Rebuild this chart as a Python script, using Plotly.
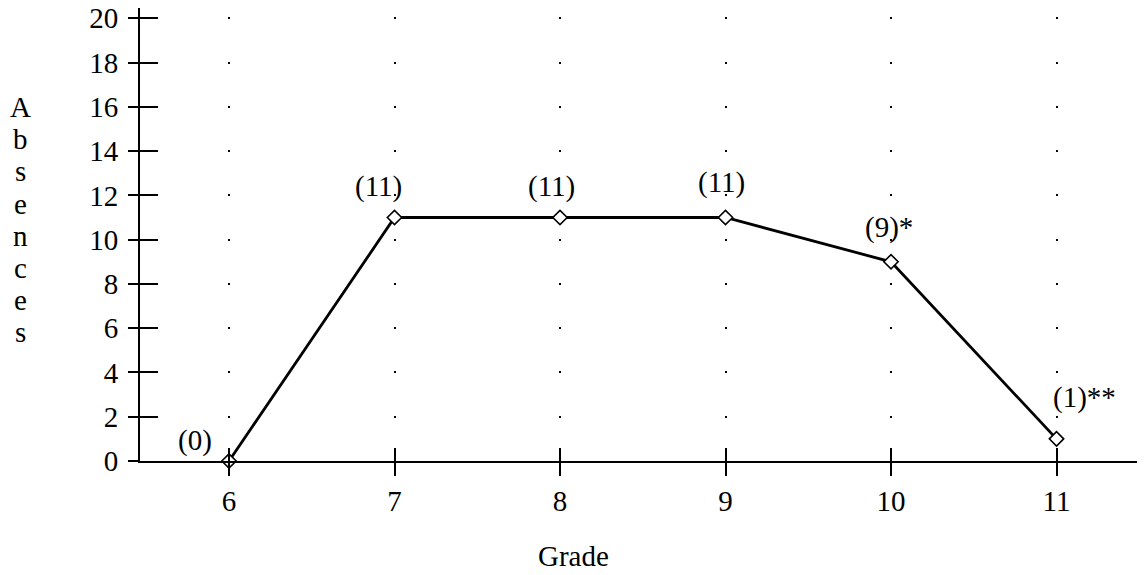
import plotly.graph_objects as go

# data
grades = [6, 7, 8, 9, 10, 11]
absences = [0, 11, 11, 11, 9, 1]
point_labels = ["(0)", "(11)", "(11)", "(11)", "(9)*", "(1)**"]
y_ticks = list(range(0, 21, 2))
y_title = "Absences"
x_title = "Grade"

# label offsets in px (dx, dy)
label_shift = [(-34, 21), (-16, 31), (-9, 31), (-4, 35), (-2, 34), (28, 41)]

# the page body adds 8px around the figure, so the figure is 8px smaller
W, H = 1137, 567
ml, mr, mt, mb = 132, 0, 0, 114
plot_w = W - ml - mr
plot_h = H - mt - mb
px_per_unit = (plot_h - 10.3) / 20
y_max = plot_h / px_per_unit
x_range = [6 - 89 / 165.5, 6 + (plot_w - 89) / 165.5]


def paper(fx, fy):
    return (fx - ml) / plot_w, (mt + plot_h - fy) / plot_h


# dotted vertical grid: one dot at every even y value, path starts at top
period = 2 * px_per_unit
dot = 2
gap_a = (y_max - 20) * px_per_unit - dot / 2
gap_b = period - gap_a - dot
grid_dash = f"0px,{gap_a:.3f}px,{dot}px,{gap_b:.3f}px"

font = dict(family="Liberation Serif", size=29, color="black")

fig = go.Figure()
fig.add_trace(go.Scatter(
    x=grades, y=absences, mode="lines+markers",
    line=dict(color="black", width=2.8),
    marker=dict(symbol="diamond", size=11, color="white",
                line=dict(color="black", width=1.6)),
    cliponaxis=False, showlegend=False, hoverinfo="skip",
))
# invisible trace for the overlay axes that draw the inner tick halves
fig.add_trace(go.Scatter(x=[grades[0]], y=[absences[0]], xaxis="x2", yaxis="y2",
                         mode="markers", marker=dict(opacity=0),
                         showlegend=False, hoverinfo="skip"))

for g, a, t, (dx, dy) in zip(grades, absences, point_labels, label_shift):
    fig.add_annotation(x=g, y=a, text=t, showarrow=False, xshift=dx, yshift=dy,
                       xanchor="center", yanchor="middle", font=font)

# stacked letters of the y title
for i, ch in enumerate(y_title):
    px_, py_ = paper(12, 99 + 32.2 * i)
    fig.add_annotation(xref="paper", yref="paper", x=px_, y=py_, text=ch,
                       showarrow=False, xanchor="center", yanchor="middle", font=font)

gx, gy = paper(565, 548)
fig.add_annotation(xref="paper", yref="paper", x=gx, y=gy, text=x_title,
                   showarrow=False, xanchor="center", yanchor="middle", font=font)

fig.update_layout(
    width=W, height=H,
    margin=dict(l=ml, r=mr, t=mt, b=mb, autoexpand=False),
    paper_bgcolor="white", plot_bgcolor="white",
    font=font,
    xaxis=dict(range=x_range, tickvals=grades, ticks="outside", ticklen=13,
               tickwidth=2, tickcolor="black", showline=True, linewidth=2,
               linecolor="black", showgrid=True, gridcolor="black", gridwidth=2,
               griddash=grid_dash, zeroline=False, tickfont=font),
    yaxis=dict(range=[0, y_max], tickvals=y_ticks, ticks="outside", ticklen=10,
               tickwidth=2, tickcolor="black", showline=True, linewidth=2,
               linecolor="black", showgrid=False, zeroline=False, tickfont=font,
               ticklabelstandoff=4, ticklabeloverflow="allow", automargin=False),
    xaxis2=dict(range=x_range, overlaying="x", anchor="y2", tickvals=grades,
                ticks="inside", ticklen=13, tickwidth=2, tickcolor="black",
                showticklabels=False, showline=False, showgrid=False, zeroline=False),
    yaxis2=dict(range=[0, y_max], overlaying="y", anchor="x2", tickvals=y_ticks,
                ticks="inside", ticklen=18, tickwidth=2, tickcolor="black",
                showticklabels=False, showline=False, showgrid=False, zeroline=False),
)

fig.write_html("out.html")
